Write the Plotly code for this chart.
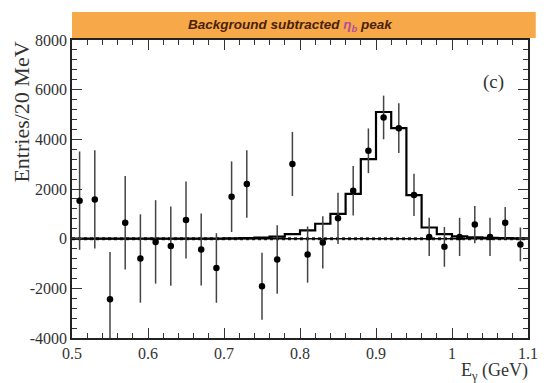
import plotly.graph_objects as go

# Data points (bin centres, GeV)
e_centers = [0.51, 0.53, 0.55, 0.57, 0.59, 0.61, 0.63, 0.65, 0.67, 0.69,
             0.71, 0.73, 0.75, 0.77, 0.79, 0.81, 0.83, 0.85, 0.87, 0.89,
             0.91, 0.93, 0.95, 0.97, 0.99, 1.01, 1.03, 1.05, 1.07, 1.09]
entries = [1530, 1580, -2440, 640, -800, -130, -300, 750, -440, -1180,
           1690, 2200, -1920, -840, 3010, -640, -150, 820, 1930, 3540,
           4880, 4450, 1760, 70, -330, 70, 570, 70, 640, -230]
errors = [1980, 1980, 1900, 1880, 1780, 1680, 1600, 1550, 1450, 1400,
          1420, 1360, 1350, 1380, 1290, 1130, 1050, 1030, 1000, 900,
          880, 1000, 850, 770, 800, 770, 750, 770, 640, 680]

# Signal MC histogram (one value per 20 MeV bin)
bin_width = 0.02
mc_hist = [5, 5, 5, 5, 5, 5, 5, 5, 5, 5,
           10, 20, 40, 80, 180, 330, 600, 1000, 1800, 3200,
           5100, 4450, 1750, 450, 180, 90, 50, 30, 20, 10]

x_ticks = [0.5, 0.6, 0.7, 0.8, 0.9, 1.0, 1.1]
x_tick_labels = ["0.5", "0.6", "0.7", "0.8", "0.9", "1", "1.1"]
y_ticks = [-4000, -2000, 0, 2000, 4000, 6000, 8000]
y_tick_labels = ["-4000", "-2000", "0", "2000", "4000", "6000", "8000"]

hist_x = [c - bin_width / 2 for c in e_centers] + [e_centers[-1] + bin_width / 2]
hist_y = mc_hist + [mc_hist[-1]]

serif = "Liberation Serif, Times New Roman, serif"

fig = go.Figure()

# zero lines
fig.add_trace(go.Scatter(x=[x_ticks[0], x_ticks[-1]], y=[0, 0], mode="lines",
                         line=dict(color="#333", width=3, dash="dot"),
                         hoverinfo="skip", showlegend=False))
fig.add_trace(go.Scatter(x=[x_ticks[0], x_ticks[-1]], y=[0, 0], mode="lines",
                         line=dict(color="black", width=1.5),
                         hoverinfo="skip", showlegend=False))
# MC histogram
fig.add_trace(go.Scatter(x=hist_x, y=hist_y, mode="lines", line_shape="hv",
                         line=dict(color="black", width=2.2), showlegend=False))
# data
fig.add_trace(go.Scatter(x=e_centers, y=entries, mode="markers",
                         marker=dict(color="black", size=6.5),
                         error_y=dict(type="data", array=errors, width=0,
                                      thickness=1.5, color="#444"),
                         showlegend=False))

axis_common = dict(showgrid=False, zeroline=False, showline=True,
                   linecolor="#222", linewidth=1.5, mirror="allticks",
                   ticks="inside", ticklen=10, tickwidth=1, tickcolor="#333",
                   tickfont=dict(family=serif, size=16, color="#333"))

fig.update_xaxes(range=[0.5, 1.1], tickvals=x_ticks, ticktext=x_tick_labels,
                 minor=dict(ticks="inside", dtick=0.02, ticklen=5,
                            tickcolor="#333", tick0=0.5),
                 **axis_common)
fig.update_yaxes(range=[-4000, 8000], tickvals=y_ticks, ticktext=y_tick_labels,
                 minor=dict(ticks="inside", dtick=400, ticklen=5,
                            tickcolor="#333", tick0=0),
                 **axis_common)

fig.update_layout(
    width=538, height=375,
    margin=dict(l=64, r=8, t=32, b=45),
    plot_bgcolor="white", paper_bgcolor="white",
    shapes=[dict(type="rect", xref="paper", yref="paper",
                 x0=0, x1=1.017, y0=1.0067, y1=1.094,
                 fillcolor="#F7A848", line=dict(width=0), layer="below")],
    annotations=[
        dict(text="<b><i>Background subtracted <span style='color:#b0509a'>η<sub>b</sub></span> peak</i></b>",
             xref="paper", yref="paper", x=0.48, y=1.05,
             xanchor="center", yanchor="middle", showarrow=False,
             font=dict(family="Liberation Sans, Arial, sans-serif", size=13.5,
                       color="#4a2208")),
        dict(text="(c)", xref="paper", yref="paper", x=0.925, y=0.859,
             xanchor="center", yanchor="middle", showarrow=False,
             font=dict(family=serif, size=19, color="#333")),
        dict(text="Entries/20 MeV", xref="paper", yref="paper",
             x=-0.1116, y=1.0, xanchor="center", yanchor="top", textangle=-90,
             showarrow=False, font=dict(family=serif, size=22, color="#333")),
        dict(text="E<sub>γ</sub> (GeV)", xref="paper", yref="paper",
             x=1.004, y=-0.114, xanchor="right", yanchor="middle",
             showarrow=False, font=dict(family=serif, size=18, color="#333")),
    ],
)

fig.write_html("out.html")
